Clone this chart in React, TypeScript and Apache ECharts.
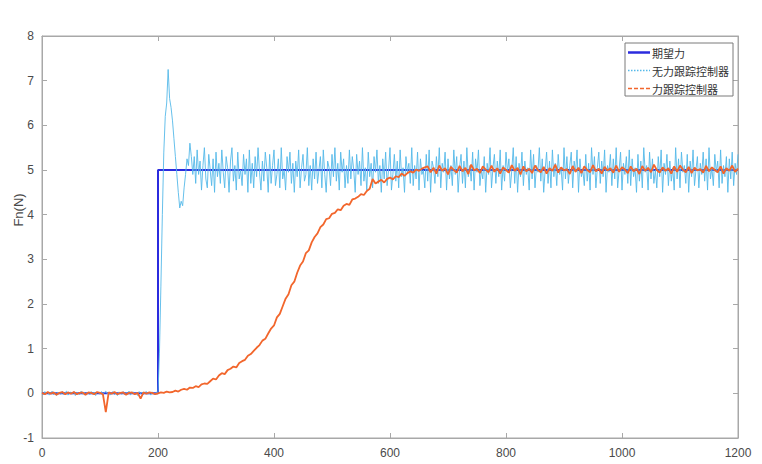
import React, { useEffect, useRef } from "react";
import * as echarts from "echarts";

// sample spacing of the two measured signals (time units)
const NO_TRACK_STEP = 2.5;
const TRACK_STEP = 5;

const seriesNames = ["期望力", "无力跟踪控制器", "力跟踪控制器"];

// desired force: step from 0 to 5 at t = 200
const desiredT = [0, 200, 200, 1200];
const desiredF = [0, 0, 5, 5];

// controller without force tracking (t = 0,2.5,...,1200)
const noTrackF = [
  // 0-197.5
  0.02, -0.03, 0.04, -0.01, 0.03, -0.04, 0.01, 0.05, -0.03, 0.02,
  -0.05, 0.03, 0.0, -0.02, 0.04, -0.03, 0.02, 0.05, -0.04, 0.01,
  0.03, -0.02, 0.04, -0.05, 0.02, 0.0, -0.03, 0.05, -0.02, 0.03,
  -0.04, 0.02, 0.01, -0.03, 0.04, -0.02, 0.03, -0.05, 0.02, 0.01,
  -0.02, 0.04, -0.03, 0.02, 0.05, -0.01, 0.03, -0.04, 0.01, 0.04,
  -0.03, 0.02, -0.05, 0.03, 0.01, -0.02, 0.04, -0.03, 0.02, -0.01,
  0.05, -0.04, 0.02, 0.03, -0.02, 0.01, -0.05, 0.04, -0.01, 0.03,
  -0.03, 0.02, 0.04, -0.02, 0.01, -0.04, 0.03, 0.0, -0.02, 0.03,
  // 200-260 transient
  0.02, 0.9, 2.4, 4.0, 5.4, 6.2, 6.5, 7.25, 6.6, 6.4,
  6.1, 5.7, 5.3, 4.9, 4.5, 4.15, 4.3, 4.2, 4.6, 4.9,
  5.25, 5.1, 5.6, 5.3, 4.9,
  // 262.5-1200
  5.3, 4.7, 5.45, 4.9, 5.2, 4.55, 5.1, 5.5, 4.8, 4.6,
  5.35, 5.0, 4.65, 5.25, 4.5, 5.4, 4.85, 5.15, 4.7, 5.45,
  4.95, 4.6, 5.3, 5.05, 4.5, 5.2, 5.5, 4.75, 5.1, 4.55,
  5.4, 4.8, 5.0, 4.65, 5.35, 4.9, 5.25, 4.5, 5.45, 4.7,
  5.15, 4.6, 5.3, 4.85, 5.5, 4.95, 4.55, 5.2, 4.75, 5.4,
  5.05, 4.5, 5.35, 4.7, 5.1, 5.45, 4.65, 4.9, 5.25, 4.6,
  5.5, 4.8, 5.0, 4.55, 5.3, 4.95, 5.4, 4.7, 5.15, 4.5,
  5.2, 4.85, 5.45, 4.6, 5.05, 5.35, 4.75, 4.9, 5.5, 4.65,
  5.1, 4.55, 5.25, 4.8, 5.4, 4.7, 5.0, 5.3, 4.6, 5.45,
  4.9, 4.5, 5.2, 5.05, 4.65, 5.35, 4.85, 5.5, 4.75, 5.15,
  4.55, 5.4, 4.95, 5.25, 4.6, 5.1, 4.7, 5.45, 4.8, 5.3,
  5.0, 4.5, 5.35, 4.9, 5.2, 4.65, 5.5, 4.75, 5.05, 4.55,
  5.4, 4.85, 5.15, 4.6, 5.3, 4.95, 5.45, 4.7, 5.1, 4.5,
  5.25, 4.8, 5.4, 4.65, 5.0, 5.5, 4.55, 4.9, 5.35, 4.75,
  5.2, 4.6, 5.45, 4.85, 5.05, 4.5, 5.3, 4.95, 5.15, 4.7,
  5.5, 4.65, 5.1, 4.8, 5.4, 4.55, 5.25, 4.9, 5.0, 4.6,
  5.35, 4.75, 5.45, 4.5, 5.2, 5.05, 4.7, 5.3, 4.85, 5.5,
  4.6, 5.15, 4.95, 5.4, 4.55, 5.25, 4.8, 5.1, 4.65, 5.45,
  4.9, 5.3, 4.5, 5.05, 5.35, 4.7, 5.2, 4.6, 5.5, 4.85,
  5.1, 4.75, 5.4, 4.55, 5.25, 4.95, 5.45, 4.65, 5.0, 4.8,
  5.3, 4.5, 5.15, 4.9, 5.5, 4.6, 5.05, 5.35, 4.7, 5.2,
  4.85, 5.45, 4.55, 5.1, 4.75, 5.4, 4.95, 5.25, 4.6, 5.0,
  5.5, 4.7, 5.3, 4.5, 5.15, 4.85, 5.4, 4.65, 5.2, 4.9,
  5.05, 4.55, 5.45, 4.8, 5.35, 4.6, 5.1, 4.95, 5.5, 4.75,
  5.25, 4.5, 5.0, 5.4, 4.7, 5.2, 4.6, 5.45, 4.85, 5.15,
  4.65, 5.35, 4.9, 5.05, 4.55, 5.5, 4.8, 5.3, 4.7, 5.1,
  5.4, 4.6, 5.2, 4.95, 5.45, 4.5, 5.25, 4.85, 5.0, 4.65,
  5.35, 4.75, 5.15, 4.55, 5.5, 4.9, 5.3, 4.6, 5.05, 5.4,
  4.7, 5.2, 4.85, 5.45, 4.5, 5.1, 4.95, 5.35, 4.65, 5.25,
  4.8, 5.5, 4.6, 5.0, 5.4, 4.55, 5.15, 4.9, 5.3, 4.7,
  5.45, 4.65, 5.25, 4.85, 5.05, 4.5, 5.35, 4.75, 5.2, 4.6,
  5.5, 4.95, 5.1, 4.55, 5.4, 4.8, 5.25, 4.7, 5.0, 4.6,
  5.3, 4.85, 5.45, 4.5, 5.15, 4.9, 5.35, 4.65, 5.2, 4.75,
  5.05, 4.55, 5.5, 4.8, 5.25, 4.6, 5.4, 4.95, 5.1, 4.7,
  5.35, 4.5, 5.2, 4.85, 5.45, 4.65, 5.0, 5.3, 4.6, 5.15,
  4.9, 5.4, 4.75, 5.25, 4.55, 5.5, 4.8, 5.05, 4.65, 5.35,
  4.95, 5.2, 4.6, 5.45, 4.7, 5.1, 4.85, 5.3, 4.5, 5.25,
  4.8, 5.4, 4.65, 5.15, 4.9, 5.35,
];

// force tracking controller (t = 0,5,...,1200)
const trackF = [
  // 0-195
  0.01, -0.02, 0.03, -0.01, 0.02, -0.03, 0.01, 0.03, -0.02, 0.02,
  -0.01, 0.03, -0.02, 0.01, 0.02, -0.03, 0.02, 0.01, -0.02, 0.03,
  0.01, -0.02, -0.42, 0.02, -0.01, 0.03, -0.02, 0.01, 0.02, -0.03,
  0.01, 0.02, -0.02, 0.01, -0.12, 0.02, -0.01, 0.02, 0.01, -0.02,
  // 200-660
  0.0, 0.02, 0.01, 0.04, 0.02, 0.03, 0.06, 0.04, 0.08, 0.1,
  0.08, 0.13, 0.12, 0.16, 0.14, 0.2, 0.22, 0.21, 0.27, 0.33,
  0.31, 0.4, 0.45, 0.43, 0.52, 0.55, 0.6, 0.58, 0.68, 0.72,
  0.75, 0.84, 0.88, 0.95, 1.02, 1.08, 1.18, 1.22, 1.34, 1.45,
  1.52, 1.7, 1.78, 1.95, 2.12, 2.22, 2.42, 2.5, 2.7, 2.86,
  2.95, 3.14, 3.2, 3.38, 3.5, 3.58, 3.72, 3.78, 3.9, 3.92,
  4.02, 4.04, 4.12, 4.1, 4.2, 4.24, 4.22, 4.34, 4.36, 4.4,
  4.46, 4.44, 4.53, 4.58, 4.8, 4.7, 4.74, 4.78, 4.72, 4.8,
  4.83, 4.79, 4.86, 4.84, 4.92, 4.87, 4.93, 4.97, 4.94, 5.01,
  4.98, 5.03, 5.06,
  // 665-1200
  5.08, 4.95, 5.05, 4.92, 5.1, 4.98, 5.04, 4.9, 5.07, 5.0,
  4.94, 5.09, 4.97, 5.05, 4.91, 5.12, 4.99, 5.03, 4.93, 5.08,
  5.01, 4.95, 5.1, 4.96, 5.04, 4.92, 5.06, 5.0, 4.94, 5.11,
  4.98, 5.05, 4.9, 5.08, 4.97, 5.03, 4.93, 5.1, 5.0, 4.95,
  5.07, 4.92, 5.04, 4.98, 5.12, 4.94, 5.06, 4.99, 5.02, 4.91,
  5.09, 4.96, 5.05, 4.93, 5.08, 5.0, 4.95, 5.11, 4.97, 5.03,
  4.92, 5.07, 4.99, 5.04, 4.94, 5.1, 4.96, 5.06, 5.01, 4.93,
  5.08, 4.97, 5.03, 4.91, 5.09, 4.98, 5.05, 4.95, 5.12, 5.0,
  4.94, 5.06, 4.98, 5.04, 4.92, 5.08, 4.96, 5.1, 5.01, 4.95,
  5.07, 4.93, 5.05, 4.99, 5.02, 4.94, 5.09, 4.97, 5.06, 5.0,
  4.95, 5.08, 4.92, 5.04, 4.98, 5.1, 4.96, 5.03,
];

const BLUE = "#2b2bde";
const CYAN = "#55b9e9";
const ORANGE = "#f2662c";
const AXIS = "#a8a8a8";
const LABEL = "#4a4a4a";
const FONT = "'Liberation Sans', Arial, sans-serif";
const CJK = "'Noto Sans CJK SC', sans-serif";

export default function App() {
  const ref = useRef<HTMLDivElement>(null);

  useEffect(() => {
    if (!ref.current) return;
    const chart = echarts.init(ref.current, undefined, { renderer: "svg" });

    const pair = (vals: number[], step: number) => vals.map((v, i) => [i * step, v]);
    const desired = desiredT.map((t, i) => [t, desiredF[i]]);

    const axisLine = { show: true, onZero: false, lineStyle: { color: AXIS, width: 1 } };
    const tick = { show: true, inside: true, length: 5, lineStyle: { color: AXIS } };
    const fmt = (v: number) => String(v);

    // legend box (drawn as graphic to match the boxed MATLAB legend)
    const legX = 625;
    const legY = 43;
    const legRows = [52.5, 70.5, 88.5];
    const legStyles = [
      { stroke: BLUE, lineWidth: 2.5 },
      { stroke: CYAN, lineWidth: 1.5, lineDash: [1.5, 1.5] },
      { stroke: ORANGE, lineWidth: 1.5, lineDash: [4, 2] },
    ];
    const legendGraphics: any[] = [
      {
        type: "rect",
        shape: { x: legX, y: legY, width: 108, height: 53 },
        style: { fill: "#ffffff", stroke: "#7a7a7a", lineWidth: 1 },
        z: 100,
      },
    ];
    seriesNames.forEach((name, i) => {
      legendGraphics.push({
        type: "line",
        shape: { x1: legX + 3, y1: legRows[i], x2: legX + 25, y2: legRows[i] },
        style: legStyles[i],
        z: 101,
      });
      legendGraphics.push({
        type: "text",
        x: legX + 27,
        y: legRows[i],
        style: {
          text: name,
          fill: "#333333",
          font: `11px ${CJK}`,
          textAlign: "left",
          textVerticalAlign: "middle",
        },
        z: 101,
      });
    });

    chart.setOption({
      animation: false,
      backgroundColor: "#ffffff",
      grid: {
        left: 42,
        right: 24,
        top: 36,
        bottom: 26,
        show: true,
        borderColor: AXIS,
        borderWidth: 1,
        backgroundColor: "transparent",
        outerBoundsMode: "none",
      },
      legend: { show: false, data: seriesNames },
      xAxis: [
        {
          type: "value",
          min: 0,
          max: 1200,
          interval: 200,
          axisLine,
          axisTick: tick,
          splitLine: { show: false },
          axisLabel: { color: LABEL, fontSize: 12, fontFamily: FONT, margin: 9, formatter: fmt },
        },
        {
          type: "value",
          position: "top",
          min: 0,
          max: 1200,
          interval: 200,
          axisLine,
          axisTick: tick,
          splitLine: { show: false },
          axisLabel: { show: false },
        },
      ],
      yAxis: [
        {
          type: "value",
          min: -1,
          max: 8,
          interval: 1,
          axisLine,
          axisTick: tick,
          splitLine: { show: false },
          axisLabel: { color: LABEL, fontSize: 12, fontFamily: FONT, margin: 8, formatter: fmt },
        },
        {
          type: "value",
          position: "right",
          min: -1,
          max: 8,
          interval: 1,
          axisLine,
          axisTick: tick,
          splitLine: { show: false },
          axisLabel: { show: false },
        },
      ],
      graphic: [
        {
          type: "text",
          x: 18,
          y: 210,
          rotation: Math.PI / 2,
          style: {
            text: "Fn(N)",
            fill: LABEL,
            font: `13px ${FONT}`,
            textAlign: "center",
            textVerticalAlign: "middle",
          },
        },
        ...legendGraphics,
      ],
      series: [
        {
          name: seriesNames[0],
          type: "line",
          data: desired,
          symbol: "none",
          lineStyle: { color: BLUE, width: 2 },
          itemStyle: { color: BLUE },
          z: 2,
        },
        {
          name: seriesNames[1],
          type: "line",
          data: pair(noTrackF, NO_TRACK_STEP),
          symbol: "none",
          lineStyle: { color: CYAN, width: 0.9 },
          itemStyle: { color: CYAN },
          z: 3,
        },
        {
          name: seriesNames[2],
          type: "line",
          data: pair(trackF, TRACK_STEP),
          symbol: "none",
          lineStyle: { color: ORANGE, width: 1.8 },
          itemStyle: { color: ORANGE },
          z: 4,
        },
      ],
    });

    return () => chart.dispose();
  }, []);

  return (
    <div
      ref={ref}
      style={{ position: "fixed", left: 0, top: 0, width: 762, height: 464, background: "#fff" }}
    />
  );
}
